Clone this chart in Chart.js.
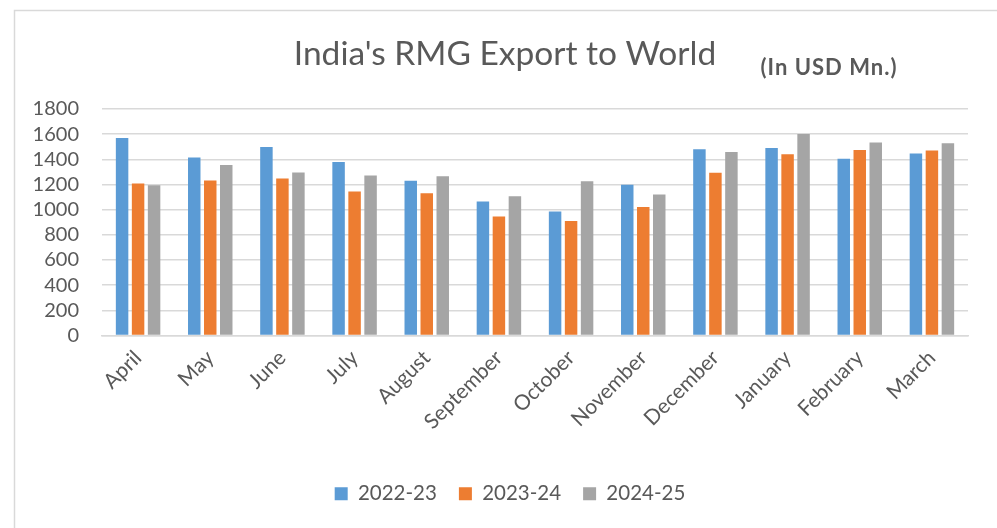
<!DOCTYPE html>
<html>
<head>
<meta charset="utf-8">
<script src="https://cdn.jsdelivr.net/npm/chart.js@4.4.1/dist/chart.umd.min.js"></script>
<style>
html,body{margin:0;padding:0;background:#fff;}
#wrap{width:997px;height:528px;position:relative;}
</style>
</head>
<body>
<div id="wrap"><canvas id="c" width="997" height="528"></canvas></div>
<script>
const months = ["April","May","June","July","August","September","October","November","December","January","February","March"];
const seriesNames = ["2022-23","2023-24","2024-25"];
const fy2223 = [1570,1414,1498,1378,1230,1064,986,1198,1480,1490,1405,1446];
const fy2324 = [1208,1232,1248,1144,1130,946,910,1022,1294,1440,1474,1470];
const fy2425 = [1195,1354,1296,1272,1266,1106,1226,1120,1458,1602,1534,1528];
const yMax = 1800;
const yStep = 200;
const titleText = "India's RMG Export to World";
const unitText = "(In USD Mn.)";
const colors = ["#5B9BD5","#ED7D31","#A5A5A5"];

const frame = {
  id:'frame',
  beforeDraw(chart){
    const ctx = chart.ctx;
    ctx.save();
    ctx.fillStyle = '#fff';
    ctx.fillRect(0,0,chart.width,chart.height);
    ctx.strokeStyle = '#d9d9d9';
    ctx.lineWidth = 1.5;
    ctx.strokeRect(14.5,10.5,1100,700);
    ctx.restore();
  },
  afterLayout(chart){
    const lg = chart.legend;
    if (lg) { lg.left += 16; lg.right += 16; }
  },
  afterDraw(chart){
    const ctx = chart.ctx;
    ctx.save();
    ctx.fillStyle = '#595959';
    ctx.textBaseline = 'alphabetic';
    ctx.textAlign = 'center';
    ctx.font = '400 33.5px Lato';
    ctx.fillText(titleText, 505, 65);
    ctx.font = 'bold 22px Lato';
    ctx.letterSpacing = '1px';
    ctx.fillText(unitText, 829, 75);
    ctx.restore();
  }
};

new Chart(document.getElementById('c'), {
  type:'bar',
  data:{
    labels: months,
    datasets:[
      {label:seriesNames[0], data:fy2223, backgroundColor:colors[0]},
      {label:seriesNames[1], data:fy2324, backgroundColor:colors[1]},
      {label:seriesNames[2], data:fy2425, backgroundColor:colors[2]}
    ]
  },
  options:{
    responsive:false,
    animation:false,
    devicePixelRatio:1,
    layout:{padding:{top:109,left:20,right:29,bottom:14}},
    datasets:{bar:{categoryPercentage:0.665,barPercentage:0.78}},
    plugins:{
      title:{display:false},
      tooltip:{enabled:false},
      legend:{
        position:'bottom',
        labels:{
          boxWidth:13, boxHeight:13, padding:22,
          color:'#595959',
          font:{family:'Lato',size:20.5}
        }
      }
    },
    scales:{
      x:{
        grid:{display:false,drawTicks:false},
        border:{color:'#d9d9d9',width:1.5},
        ticks:{color:'#595959',font:{family:'Lato',size:21},maxRotation:45,minRotation:45,padding:10,autoSkip:false},
        afterFit(s){ s.height = 126; }
      },
      y:{
        min:0,max:yMax,
        grid:{color:'#d9d9d9',lineWidth:1.5,drawTicks:false},
        border:{display:false},
        ticks:{stepSize:yStep,autoSkip:false,color:'#595959',font:{family:'Lato',size:20},padding:23,
          callback:(v)=>String(v)},
        afterFit(s){ s.width = 82; }
      }
    }
  },
  plugins:[frame]
});
</script>
</body>
</html>
